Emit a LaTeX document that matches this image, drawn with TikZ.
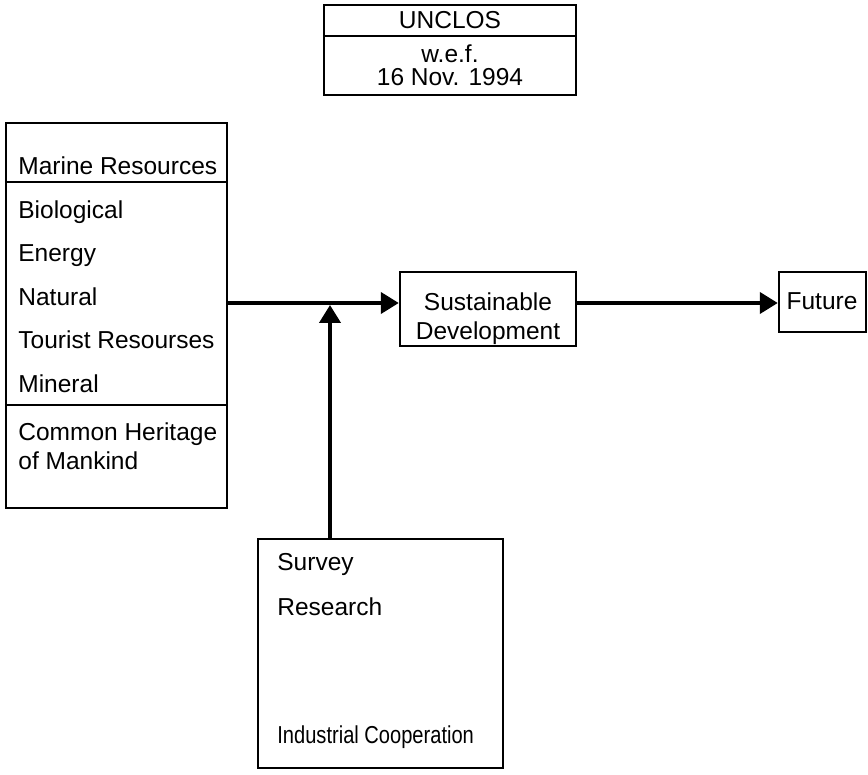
\documentclass[tikz,border=0pt]{standalone}
\usepackage{fontspec}
\setmainfont{Liberation Sans}
\newfontfamily\narrowfont[FakeStretch=0.82]{Liberation Sans}
\usetikzlibrary{arrows.meta,positioning}

\begin{document}
\begin{tikzpicture}[x=0.5pt, y=-0.5pt,
  box/.style={draw, line width=1.2pt, inner sep=0pt},
  txt/.style={inner sep=0pt, anchor=base west, font=\fontsize{12.25}{14.5}\selectfont},
  ctxt/.style={txt, anchor=base},
  arrow/.style={line width=2pt, -{Triangle[length=9pt,width=10.5pt]}}]
\useasboundingbox (0,0) rectangle (868,775);

% UNCLOS
\node[box, minimum width=126pt, minimum height=45pt] (unclos) at (450,50) {};
\draw[line width=1.2pt] (unclos.west |- 0,36) -- (unclos.east |- 0,36);
\node[ctxt] (unclosname) at (450,29) {UNCLOS};
\node[ctxt] (wef) at (450,63) {w.e.f.};
\node[ctxt] (date) at (450,86) {16 Nov. 1994};

% marine resources
\node[box, minimum width=110.5pt, minimum height=192.5pt] (res) at (116.5,315.5) {};
\draw[line width=1.2pt] (res.west |- 0,182) -- (res.east |- 0,182);
\draw[line width=1.2pt] (res.west |- 0,405) -- (res.east |- 0,405);
\node[txt] (restitle) at (18,175) {Marine Resources};
\foreach \t [count=\i] in {Biological, Energy, Natural, Tourist Resourses, Mineral}
  \node[txt] (item\i) at (18,175+43.5*\i) {\t};
\node[txt, anchor=north west, align=left] (heritage) at (18,422) {Common Heritage\\of Mankind};

% survey etc.
\node[box, minimum width=122.5pt, minimum height=114.5pt] (act) at (380.5,653.5) {};
\node[txt] (survey) at (277,570) {Survey};
\node[txt] (research) at (277,615) {Research};
\node[txt] (coop) at (277,743) {\narrowfont Industrial Cooperation};

% right side
\node[box, minimum width=88pt, minimum height=37pt] (sust) at (488,309) {};
\node[txt, anchor=north, align=center] (susttext) at (488,292) {Sustainable\\Development};
\node[box, minimum width=43.5pt, minimum height=30pt] (future) at (822.5,302) {};
\node[ctxt] (futuretext) at (822,310) {Future};

\coordinate (j) at (330,303);
\draw[arrow] (res.east |- j) -- (sust.west |- j);
\draw[arrow] (sust.east |- j) -- (future.west |- j);
\draw[arrow] (act.north -| j) -- ([yshift=-1pt]j);
\end{tikzpicture}
\end{document}
